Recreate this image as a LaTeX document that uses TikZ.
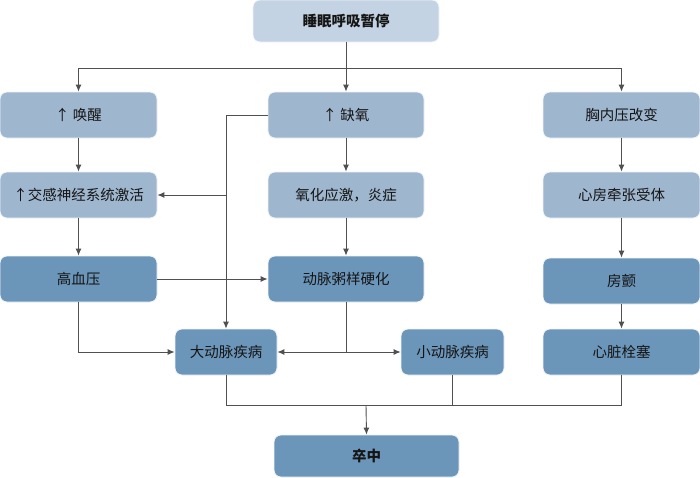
\documentclass[tikz,border=0pt]{standalone}
\usepackage{fontspec}
\setmainfont{Noto Sans CJK SC}
\usetikzlibrary{arrows.meta}
\definecolor{cTop}{HTML}{C4D3E3}
\definecolor{cMid}{HTML}{9FB6CF}
\definecolor{cDark}{HTML}{6B96BA}
\definecolor{cLine}{HTML}{505050}
\definecolor{cText}{HTML}{151515}
\tikzset{
  box/.style={rectangle, rounded corners=7pt, draw=white!85!cMid, line width=0.8pt, text=cText,
    font=\fontsize{14.5}{17}\selectfont, inner sep=0pt, minimum height=46pt},
  topbox/.style={box, fill=cTop, font=\fontsize{14.5}{17}\selectfont\bfseries, minimum height=42pt},
  midbox/.style={box, fill=cMid},
  darkbox/.style={box, fill=cDark},
  conn/.style={draw=cLine, line width=0.9pt},
  arr/.style={conn, -{Latex[length=7pt,width=6pt]}}
}
\begin{document}
\begin{tikzpicture}[x=1pt,y=-1pt]
\useasboundingbox (0,0) rectangle (700,477);
% nodes
\node[topbox, minimum width=186pt] (top) at (346,21) {睡眠呼吸暂停};
\node[midbox, minimum width=157pt] (huanxing) at (78.5,115) {↑ 唤醒};
\node[midbox, minimum width=156pt] (queyang) at (346,115) {↑ 缺氧};
\node[midbox, minimum width=157pt] (xiongnei) at (621.5,115) {胸内压改变};
\node[midbox, minimum width=157pt] (jiaogan) at (78.5,195) {↑交感神经系统激活};
\node[midbox, minimum width=156pt] (yanghua) at (346,195) {氧化应激，炎症};
\node[midbox, minimum width=157pt] (xinfang) at (621.5,195) {心房牵张受体};
\node[darkbox, minimum width=157pt] (gaoxueya) at (78.5,279) {高血压};
\node[darkbox, minimum width=156pt] (dongmai) at (346,279) {动脉粥样硬化};
\node[darkbox, minimum width=157pt] (fangchan) at (621.5,281) {房颤};
\node[darkbox, minimum width=102pt] (dadong) at (226,352) {大动脉疾病};
\node[darkbox, minimum width=103pt] (xiaodong) at (452.5,352) {小动脉疾病};
\node[darkbox, minimum width=157pt] (shuanse) at (621.5,352) {心脏栓塞};
\node[topbox, fill=cDark, minimum width=185pt] (zuzhong) at (366.5,456) {卒中};
% coordinates
\coordinate (split) at (346,68);
\coordinate (merge) at (366,405);
\coordinate (qjoint) at (226,115);
\coordinate (djoint) at (346,352);
% connectors
\draw[conn] (top.south) -- (split);
\draw[arr] (split) -| (huanxing.north);
\draw[arr] (split) -- (queyang.north);
\draw[arr] (split) -| (xiongnei.north);
\draw[arr] (huanxing) -- (jiaogan);
\draw[arr] (queyang) -- (yanghua);
\draw[arr] (xiongnei) -- (xinfang);
\draw[conn] (queyang.west) -- (qjoint);
\draw[arr] (qjoint) -- (dadong.north);
\draw[arr] (qjoint |- jiaogan.east) -- (jiaogan.east);
\draw[arr] (jiaogan) -- (gaoxueya);
\draw[arr] (yanghua) -- (dongmai);
\draw[arr] (xinfang) -- (fangchan);
\draw[arr] (fangchan) -- (shuanse);
\draw[arr] (gaoxueya.east) -- (gaoxueya.east -| dongmai.west);
\draw[arr] (gaoxueya.south) |- (dadong.west);
\draw[conn] (dongmai.south) -- (djoint);
\draw[arr] (djoint) -- (dadong.east);
\draw[arr] (djoint) -- (xiaodong.west);
\draw[conn] (dadong.south) |- (merge);
\draw[conn] (shuanse.south) |- (merge);
\draw[conn] (xiaodong.south) -- (xiaodong.south |- merge);
\draw[arr] (merge) -- (zuzhong.north);
\end{tikzpicture}
\end{document}
